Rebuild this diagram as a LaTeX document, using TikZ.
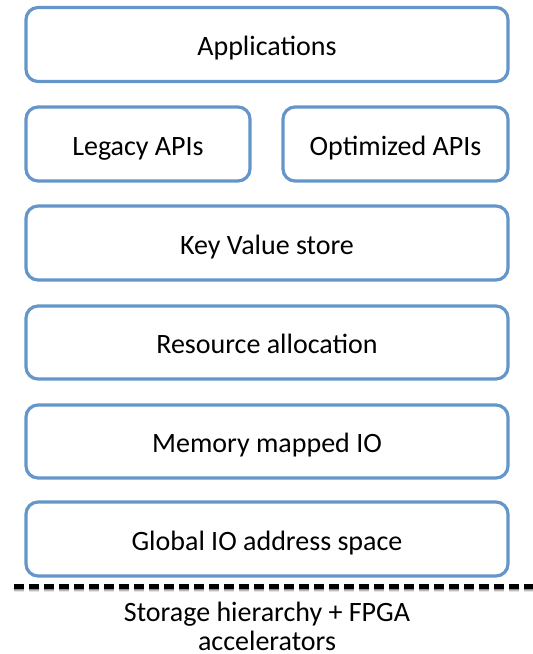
\documentclass[tikz,border=0pt]{standalone}
\usepackage{fontspec}
\setmainfont{Carlito}
\begin{document}
\begin{tikzpicture}[x=1pt,y=-1pt,
  layer/.style={draw=boxblue, line width=3.2pt, rounded corners=12pt,
    fill=white, inner sep=0pt, text height=22pt, text depth=0pt,
    font=\fontsize{28}{27}\selectfont},
  caption/.style={align=center, font=\fontsize{28}{27}\selectfont,
    inner sep=0pt, text depth=0pt}]
\definecolor{boxblue}{RGB}{101,150,201}
\useasboundingbox (0,0) rectangle (533,654);

% stacked layers
\node[layer, minimum width=482pt, minimum height=74pt] (apps)   at (267,44.5) {Applications};
\node[layer, minimum width=224pt, minimum height=74pt] (legacy) at (138,144)  {Legacy APIs};
\node[layer, minimum width=225pt, minimum height=74pt] (optim)  at (395.5,144) {Optimized APIs};
\node[layer, minimum width=482pt, minimum height=74pt] (kv)     at (267,243)  {Key Value store};
\node[layer, minimum width=482pt, minimum height=73pt] (res)    at (267,342.5) {Resource allocation};
\node[layer, minimum width=482pt, minimum height=73pt] (mmio)   at (267,441.5) {Memory mapped IO};
\node[layer, minimum width=482pt, minimum height=74pt] (gios)   at (267,539)  {Global IO address space};

% hardware boundary with a soft shadow
\coordinate (bl) at (14,586.5);
\coordinate (br) at (540,586.5);
\foreach \o/\a in {3.5/0.10, 2.5/0.18, 1.5/0.25}
  \draw[black, opacity=\a, line width=4.5pt, dash pattern=on 10pt off 5pt]
    ([yshift=-\o pt]bl) -- ([yshift=-\o pt]br);
\draw[black, line width=4.5pt, dash pattern=on 10pt off 5pt] (bl) -- (br);

\node[caption, anchor=north] (hw) at (267,602) {Storage hierarchy + FPGA\\[2pt]accelerators};
\end{tikzpicture}
\end{document}
